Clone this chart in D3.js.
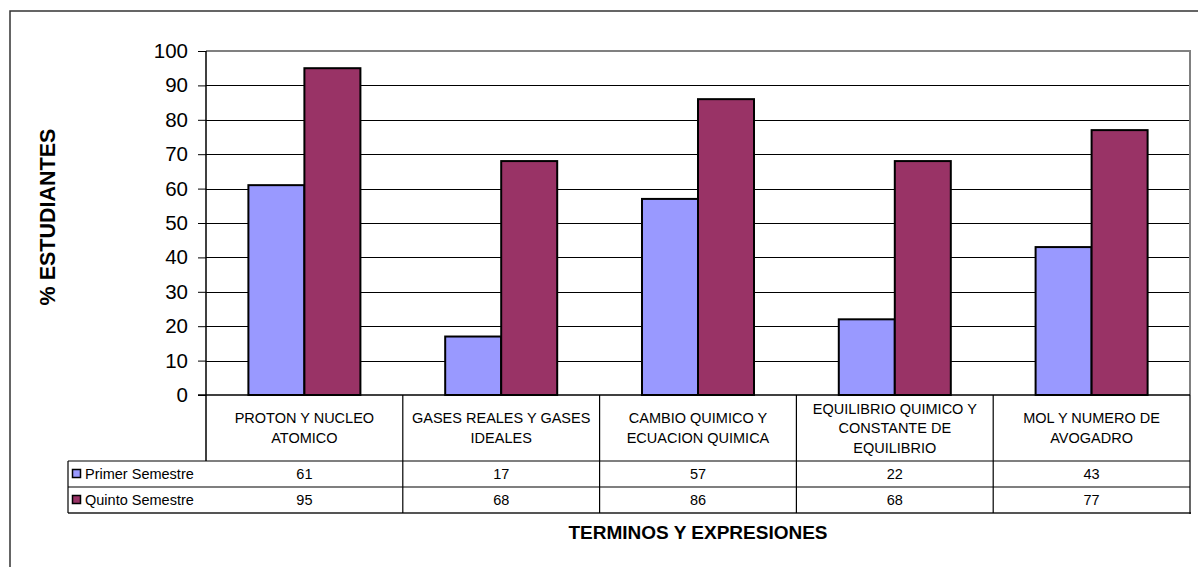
<!DOCTYPE html>
<html lang="es">
<head>
  <meta charset="UTF-8">
  <title>Terminos y expresiones</title>
  <script src="https://cdn.jsdelivr.net/npm/d3@7"></script>
  <style>
    body { margin: 0; background: #fff; }
    svg { display: block; font-family: "Liberation Sans", Arial, sans-serif; }
  </style>
</head>
<body>
  <div id="chart"></div>
  <script>
    // data
    const categories = [
      "PROTON Y NUCLEO ATOMICO",
      "GASES REALES Y GASES IDEALES",
      "CAMBIO QUIMICO Y ECUACION QUIMICA",
      "EQUILIBRIO QUIMICO Y CONSTANTE DE EQUILIBRIO",
      "MOL Y NUMERO DE AVOGADRO"
    ];
    const seriesNames = ["Primer Semestre", "Quinto Semestre"];
    const primer = [61, 17, 57, 22, 43];
    const quinto = [95, 68, 86, 68, 77];
    const yTicks = [0, 10, 20, 30, 40, 50, 60, 70, 80, 90, 100];
    const colors = ["#9999ff", "#993366"];

    const W = 1198, H = 567;
    const plot = {left: 206, right: 1190, top: 51, bottom: 395};
    const rowHead = 461, row1 = 487, row2 = 513, legendLeft = 68;

    const svg = d3.select("#chart").append("svg")
      .attr("width", W).attr("height", H);

    // outer chart frame (runs off the page at right/bottom)
    svg.append("rect")
      .attr("x", 10).attr("y", 11)
      .attr("width", W + 20).attr("height", H + 20)
      .attr("fill", "none").attr("stroke", "#333").attr("stroke-width", 1.5);

    const x0 = d3.scaleBand().domain(categories).range([plot.left, plot.right]);
    const x1 = d3.scaleBand().domain(seriesNames).range([0, x0.bandwidth()])
      .paddingInner(0).paddingOuter(0.757);
    const y = d3.scaleLinear().domain([0, 100]).range([plot.bottom, plot.top]);

    // gridlines
    svg.append("g")
      .selectAll("line")
      .data(yTicks.filter(d => d > 0 && d < 100))
      .join("line")
        .attr("x1", plot.left).attr("x2", plot.right)
        .attr("y1", d => Math.round(y(d)) + 0.5).attr("y2", d => Math.round(y(d)) + 0.5)
        .attr("stroke", "#000").attr("stroke-width", 1);

    // plot border (top/right grey)
    svg.append("path")
      .attr("d", `M${plot.left},${y(100)}H${plot.right}V${plot.bottom}`)
      .attr("fill", "none").attr("stroke", "#808080").attr("stroke-width", 2);

    // bars
    const series = seriesNames.map((name, i) => ({name, values: i === 0 ? primer : quinto, color: colors[i]}));
    series.forEach(s => {
      svg.append("g").selectAll("rect")
        .data(s.values)
        .join("rect")
          .attr("x", (d, i) => x0(categories[i]) + x1(s.name))
          .attr("y", d => y(d))
          .attr("width", x1.bandwidth())
          .attr("height", d => y(0) - y(d))
          .attr("fill", s.color)
          .attr("stroke", "#000").attr("stroke-width", 2);
    });

    // y axis
    const yAxis = svg.append("g")
      .attr("transform", `translate(${plot.left},0)`)
      .call(d3.axisLeft(y).tickValues(yTicks).tickSize(8).tickPadding(10).tickFormat(d3.format("d")));
    yAxis.select(".domain").remove();
    yAxis.selectAll("line").attr("stroke", "#000");
    yAxis.selectAll("text").attr("font-size", 20.5).attr("fill", "#000")
      .attr("font-family", "Liberation Sans, Arial, sans-serif");
    svg.append("line")
      .attr("x1", plot.left).attr("x2", plot.left)
      .attr("y1", plot.top).attr("y2", rowHead)
      .attr("stroke", "#000").attr("stroke-width", 1.5);

    // baseline
    svg.append("line")
      .attr("x1", plot.left - 8).attr("x2", plot.right)
      .attr("y1", plot.bottom).attr("y2", plot.bottom)
      .attr("stroke", "#000").attr("stroke-width", 1.5);

    // data table
    const tbl = svg.append("g").attr("stroke", "#000").attr("stroke-width", 1.2);
    [rowHead, row1].forEach(yy => tbl.append("line")
      .attr("x1", legendLeft).attr("x2", plot.right).attr("y1", yy).attr("y2", yy));
    tbl.append("line").attr("x1", legendLeft).attr("x2", plot.right + 1)
      .attr("y1", row2).attr("y2", row2).attr("stroke", "#555").attr("stroke-width", 2);
    tbl.append("line").attr("x1", legendLeft).attr("x2", legendLeft)
      .attr("y1", rowHead).attr("y2", row2);
    tbl.selectAll("line.col")
      .data(categories.slice(1))
      .join("line").attr("class", "col")
        .attr("x1", d => x0(d)).attr("x2", d => x0(d))
        .attr("y1", plot.bottom).attr("y2", row2);
    tbl.append("line").attr("x1", plot.right).attr("x2", plot.right)
      .attr("y1", plot.bottom).attr("y2", row2 + 1);

    // category header text, wrapped to the column width
    const catText = svg.append("g")
      .selectAll("text")
      .data(categories)
      .join("text")
        .attr("text-anchor", "middle")
        .attr("font-size", 14.5)
        .attr("fill", "#000");
    catText.each(function(d) {
      const t = d3.select(this);
      const words = d.split(" ");
      const lines = [];
      let cur = [];
      const probe = t.append("tspan");
      words.forEach(w => {
        const trial = cur.concat(w).join(" ");
        probe.text(trial);
        if (probe.node().getComputedTextLength() > 180 && cur.length) {
          lines.push(cur.join(" "));
          cur = [w];
        } else cur.push(w);
      });
      lines.push(cur.join(" "));
      probe.remove();
      const lh = 19.5;
      const cx = x0(d) + x0.bandwidth() / 2;
      const cy = (plot.bottom + rowHead) / 2;
      lines.forEach((ln, i) => {
        t.append("tspan")
          .attr("x", cx)
          .attr("y", cy + (i - (lines.length - 1) / 2) * lh)
          .attr("dy", "0.35em")
          .text(ln);
      });
    });

    // values rows
    series.forEach((s, si) => {
      const cy = si === 0 ? (rowHead + row1) / 2 : (row1 + row2) / 2;
      svg.append("g").selectAll("text")
        .data(s.values)
        .join("text")
          .attr("x", (d, i) => x0(categories[i]) + x0.bandwidth() / 2)
          .attr("y", cy).attr("dy", "0.35em")
          .attr("text-anchor", "middle")
          .attr("font-size", 14.5)
          .text(d => d);
      svg.append("rect")
        .attr("x", 72.5).attr("y", cy - 4.5)
        .attr("width", 8).attr("height", 8)
        .attr("fill", s.color).attr("stroke", "#000").attr("stroke-width", 1.5);
      svg.append("text")
        .attr("x", 85).attr("y", cy).attr("dy", "0.35em")
        .attr("font-size", 14.5)
        .text(s.name);
    });

    // axis titles
    svg.append("text")
      .attr("transform", "translate(47,217) rotate(-90)")
      .attr("text-anchor", "middle").attr("dy", "0.35em")
      .attr("font-size", 21.5).attr("font-weight", "bold")
      .text("% ESTUDIANTES");
    svg.append("text")
      .attr("x", 698).attr("y", 532).attr("dy", "0.35em")
      .attr("text-anchor", "middle")
      .attr("font-size", 19).attr("font-weight", "bold")
      .text("TERMINOS Y EXPRESIONES");
  </script>
</body>
</html>
